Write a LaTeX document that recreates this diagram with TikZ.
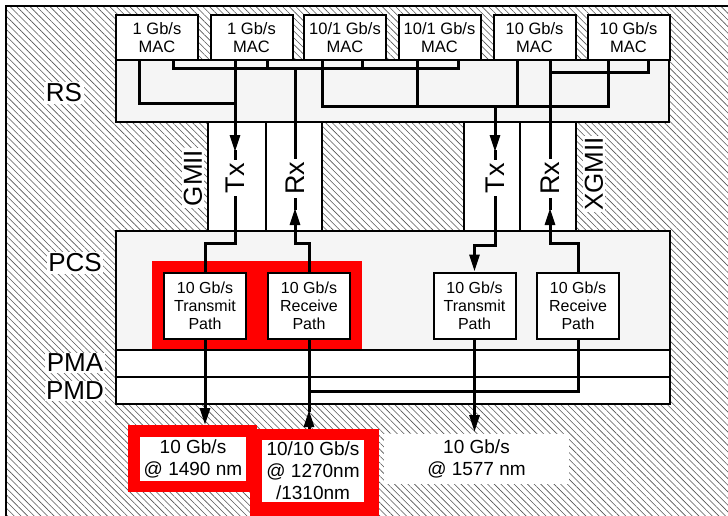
\documentclass[tikz,border=0pt]{standalone}
\usepackage{fontspec}
\setmainfont{Liberation Sans}
\usetikzlibrary{arrows.meta,patterns.meta}
\definecolor{layergray}{HTML}{F5F5F5}
\definecolor{hatchgray}{HTML}{555555}
\tikzset{
  macbox/.style={draw, line width=2pt, fill=white, minimum width=82pt, minimum height=45pt,
    inner sep=0pt, align=center, font=\fontsize{16.5}{18}\selectfont},
  pathbox/.style={draw, line width=2pt, fill=white, minimum width=82pt, minimum height=66pt,
    inner sep=0pt, align=center, font=\fontsize{16}{18}\selectfont},
  outbox/.style={fill=white, inner sep=0pt, align=center, font=\fontsize{19}{22}\selectfont},
  layer/.style={fill=white, inner sep=1.5pt, font=\fontsize{26}{26}\selectfont},
  sig/.style={fill=white, inner sep=3pt, rotate=90, font=\fontsize{27}{27}\selectfont},
  wire/.style={line width=3pt},
  arr/.style={-{Triangle[length=17pt,width=10pt]}},
  frame/.style={line width=2pt}
}
\begin{document}
\begin{tikzpicture}[x=1pt,y=-1pt]
\useasboundingbox (0,0) rectangle (728,515);
\clip (0,0) rectangle (728,515);
% hatched background
\draw[frame, pattern={Lines[angle=-45,distance=4.7pt,line width=0.6pt]}, pattern color=hatchgray] (6,6) rectangle (745,530);
% RS
\draw[frame, fill=layergray] (116,60) rectangle (669,122);
\node[macbox] (m1) at (157,37.5) {1 Gb/s\\MAC};
\node[macbox] (m2) at (251.5,37.5) {1 Gb/s\\MAC};
\node[macbox] (m3) at (345,37.5) {10/1 Gb/s\\MAC};
\node[macbox] (m4) at (439.5,37.5) {10/1 Gb/s\\MAC};
\node[macbox] (m5) at (534.5,37.5) {10 Gb/s\\MAC};
\node[macbox] (m6) at (628.5,37.5) {10 Gb/s\\MAC};
% GMII / XGMII
\draw[frame, fill=white] (208,122) rectangle (266,231);
\draw[frame, fill=white] (266,122) rectangle (322,231);
\draw[frame, fill=white] (464,122) rectangle (520,231);
\draw[frame, fill=white] (520,122) rectangle (576,231);
% PCS, PMA, PMD
\draw[frame, fill=layergray] (116,231) rectangle (670,350);
\draw[frame, fill=white] (116,350) rectangle (670,377);
\draw[frame, fill=white] (116,377) rectangle (670,404);
% red marks
\fill[red] (152,261) rectangle (257,349);
\fill[red] (257,261) rectangle (362,349);
\fill[red] (128,425) rectangle (257,492);
\fill[red] (250,429) rectangle (379,520);
\node[pathbox] (tp1) at (205,306) {10 Gb/s\\Transmit\\Path};
\node[pathbox] (rp1) at (309,306) {10 Gb/s\\Receive\\Path};
\node[pathbox] (tp2) at (474.5,305.5) {10 Gb/s\\Transmit\\Path};
\node[pathbox] (rp2) at (578,305.5) {10 Gb/s\\Receive\\Path};
\node[outbox, minimum width=106pt, minimum height=44pt] (o1) at (193,459) {10 Gb/s\\@ 1490 nm};
\node[outbox, minimum width=102pt, minimum height=62pt] (o2) at (313,471) {10/10 Gb/s\\@ 1270nm\\/1310nm};
\node[outbox, minimum width=185pt, minimum height=50pt] (o3) at (476.5,459) {10 Gb/s\\@ 1577 nm};
% MAC taps
\coordinate (m1tx) at (139,60); \coordinate (m1rx) at (173,60);
\coordinate (m2tx) at (235,60); \coordinate (m2rx) at (267,60);
\coordinate (m3tx) at (322,60); \coordinate (m3rx) at (362,60);
\coordinate (m4tx) at (417,60); \coordinate (m4rx) at (458,60);
\coordinate (m5tx) at (517,60); \coordinate (m5rx) at (550,60);
\coordinate (m6tx) at (608,60); \coordinate (m6rx) at (648,60);
% 1 Gb/s transmit
\draw[wire] (m1tx) -- (139,103) -- (235,103);
\draw[wire,arr] (m2tx) -- (235,152);
\draw[wire] (235,150) -- (235,243) -- (205,243) -- (tp1.north);
% 1 Gb/s receive
\draw[wire] (m1rx) -- (173,68) -- (458,68) -- (m4rx);
\draw[wire] (m2rx) -- (267,68);
\draw[wire] (m3rx) -- (362,68);
\draw[wire,arr] (rp1.north) -- (309,243) -- (295,243) -- (295,208);
\draw[wire] (295,210) -- (295,68);
% 10 Gb/s transmit
\draw[wire] (m3tx) -- (322,106) -- (608,106) -- (m6tx);
\draw[wire] (m4tx) -- (417,106);
\draw[wire] (m5tx) -- (517,106);
\draw[wire,arr] (495,106) -- (495,152);
\draw[wire,arr] (495,150) -- (495,245) -- (474.5,245) -- (tp2.north);
% 10 Gb/s receive
\draw[wire] (m6rx) -- (648,72) -- (550,72);
\draw[wire,arr] (rp2.north) -- (578,243) -- (550,243) -- (550,208);
\draw[wire] (550,210) -- (m5rx);
% line side
\draw[wire,arr] (tp1.south) -- (205,425);
\draw[wire,arr] (309,429) -- (309,410);
\draw[wire] (309,412) -- (rp1.south);
\draw[wire] (rp2.south) -- (578,391) -- (309,391);
\draw[wire,arr] (tp2.south) -- (474.5,432);
% labels
\node[layer] (rs) at (64,93) {RS};
\node[layer] (pcs) at (75,263) {PCS};
\node[layer] (pma) at (75,363) {PMA};
\node[layer] (pmd) at (75,391) {PMD};
\node[layer, rotate=90] (gmii) at (193,178) {GMII};
\node[layer, rotate=90] (xgmii) at (594,174) {XGMII};
\node[sig] (tx1) at (235,178) {Tx};
\node[sig] (rx1) at (295,178) {Rx};
\node[sig] (tx2) at (495,178) {Tx};
\node[sig] (rx2) at (550,178) {Rx};
\end{tikzpicture}
\end{document}
